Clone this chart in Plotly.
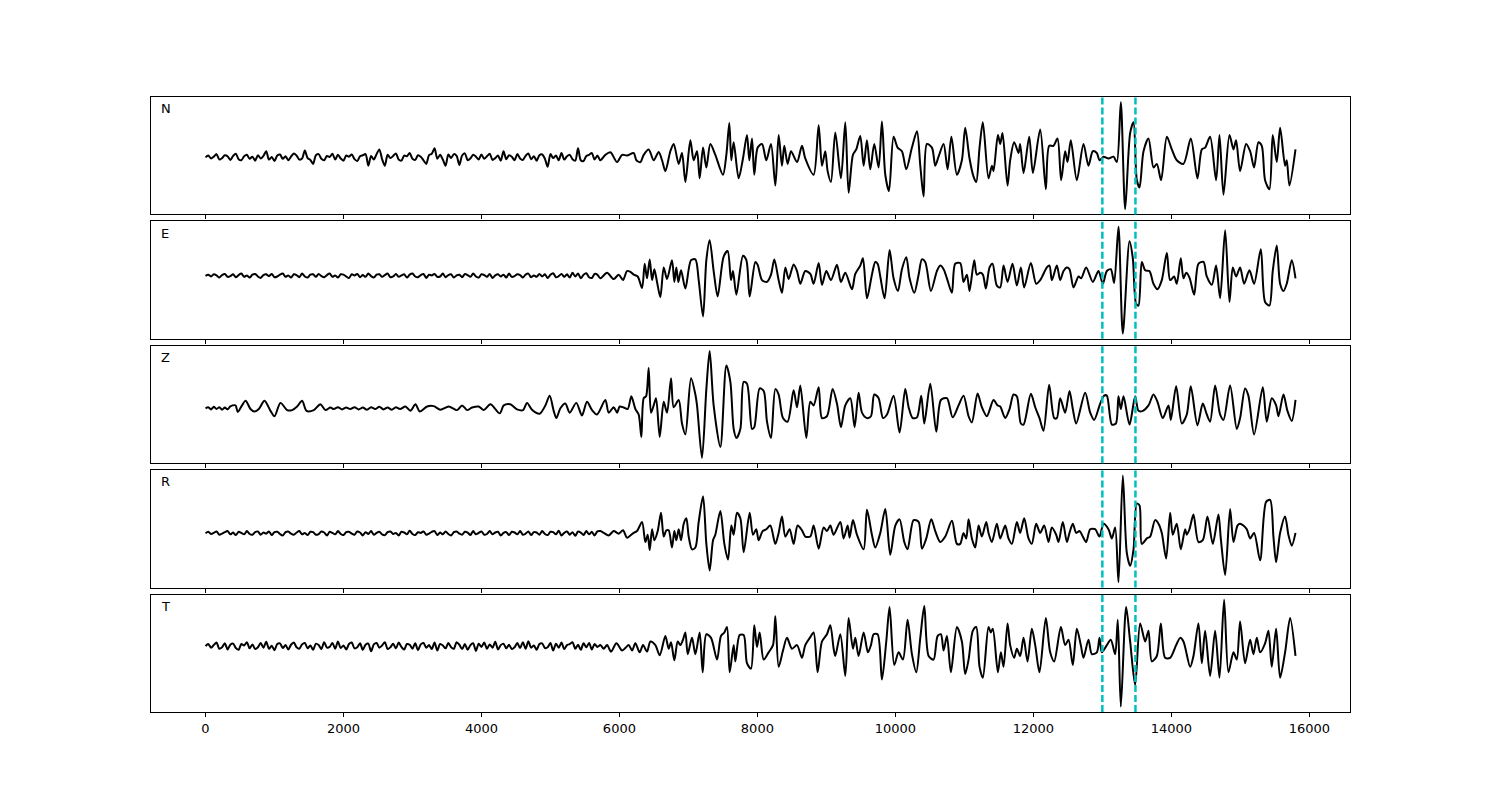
import numpy as np
import plotly.graph_objects as go
from plotly.subplots import make_subplots

# ---------------- data ----------------
COMPONENTS = ["N", "E", "Z", "R", "T"]
X_TICKS = [0, 2000, 4000, 6000, 8000, 10000, 12000, 14000, 16000]
PICKS = [13000, 13480]
NOISE_STEP = 40  # sample spacing of the pre-event noise lists

N_noise = [0, 5, -3, 2, 9, -6, -2, 6, 3, -7,
           4, 10, -5, -8, 3, 7, -4, 2, -9, 6,
           -3, 4, 17, -6, 1, -10, 5, 8, -4, 3,
           -8, 2, 11, 5, -6, -3, 19, -2, -7, -18,
           6, 9, -4, -8, 4, 1, 10, -6, 7, -3,
           -9, 5, 2, 8, -5, -10, 3, 6, 9, -23,
           4, -6, 9, 22, -5, -23, 7, -2, 4, 11,
           -6, -9, 5, 3, 12, -4, -7, 6, 2, -8,
           -18, 6, 10, 25, -4, 7, -6, -23, 8, -2,
           9, 4, -21, 5, 11, -8, -3, 7, 2, -6,
           8, -4, 3, 10, -7, -2, 5, -9, 17, -5,
           6, 2, -8, 9, -3, -7, 4, 11, -5, 3,
           -9, 6, 8, -4, -26, 9, -2, 5, -8, 12,
           -6, 3, 7, -5, -9, 25, -8, -10, 4, 7,
           12, -6, 5]
N_t = [5724, 5796, 5869, 5966, 6038, 6110, 6207, 6246, 6304, 6352,
       6424, 6497, 6569, 6618, 6666, 6738, 6787, 6859, 6907, 6956,
       7028, 7076, 7125, 7163, 7212, 7260, 7318, 7390, 7501, 7550,
       7593, 7622, 7656, 7728, 7791, 7849, 7883, 7922, 7955, 8004,
       8067, 8129, 8197, 8260, 8308, 8356, 8390, 8438, 8487, 8574,
       8646, 8694, 8815, 8888, 8936, 8984, 9018, 9066, 9129, 9211,
       9274, 9322, 9385, 9433, 9491, 9540, 9588, 9636, 9694, 9757,
       9805, 9854, 9907, 9974, 10032, 10095, 10158, 10240, 10313, 10361,
       10409, 10457, 10530, 10578, 10626, 10699, 10757, 10812, 10892, 10964,
       11012, 11075, 11133, 11172, 11220, 11268, 11350, 11399, 11423, 11486,
       11520, 11553, 11626, 11664, 11722, 11785, 11809, 11858, 11940, 11993,
       12099, 12181, 12230, 12292, 12350, 12403, 12461, 12495, 12543, 12630,
       12727, 12799, 12862, 12920, 12959, 13017, 13089, 13162, 13210, 13268,
       13331, 13403, 13452, 13500, 13539, 13597, 13669, 13742, 13790, 13852,
       13935, 14007, 14079, 14176, 14282, 14379, 14442, 14490, 14562, 14649,
       14698, 14756, 14843, 14901, 14939, 14997, 15084, 15142, 15200, 15263,
       15311, 15359, 15422, 15470, 15528, 15577, 15649, 15673, 15712, 15800]
N_v = [-8, 7, 14, -13, 7, 5, 12, -8, -13, 7,
       22, -8, 15, -8, -38, 17, 37, -18, 12, -68,
       47, -8, 17, -58, 27, -28, 37, 7, -48, 7,
       95, -8, 42, -58, -3, 62, -8, 52, -48, 27,
       37, -8, 37, -78, 62, -23, 32, -18, 17, -13,
       32, -3, -48, 89, -23, 17, -38, -68, 69, -58,
       97, -98, 7, 22, 59, -23, 47, -33, 37, -28,
       99, -48, -93, 57, 27, 17, -33, 27, 72, -23,
       -108, 37, 27, -23, 2, 37, -33, 57, -48, -8,
       82, -3, -53, -68, 27, 97, -58, -23, -38, 62,
       37, 67, -78, -8, 42, 12, 37, -43, 57, -43,
       77, -88, 32, 32, 52, -63, 17, -13, 47, -63,
       37, -23, 17, 12, -8, 2, -3, 2, -13, 152,
       -143, 67, 97, -63, -83, 17, 52, -28, -18, -63,
       57, 22, -8, -18, 52, -58, 22, 27, 57, -63,
       62, -103, 62, 22, 47, -38, 37, 17, -28, 42,
       32, -63, -88, 62, -13, 82, -23, -8, -78, 22]

E_noise = [0, 3, -2, 4, 1, -5, 2, 5, -3, -1,
           4, -4, 2, 6, -3, 1, -5, 3, 5, -2,
           -6, 2, 4, -1, 5, -4, -2, 3, 6, -3,
           1, -5, 4, 2, -4, 6, -2, -5, 3, 4,
           -3, 5, -1, -4, 2, 6, -3, 1, -5, 4,
           3, -2, -6, 4, 1, 5, -4, 2, -3, 6,
           -1, -5, 3, 4, -3, 2, 6, -4, -2, 5,
           -3, 1, 4, -5, 3, 6, -2, -4, 2, 5,
           -6, 3, 1, 5, -3, -2, 6, -4, 2, 4,
           -5, 1, 3, -4, 5, 2, -3, 6, -2, -5,
           4, 2, -3, 5, -6, 1, 4, -2, 3, -5,
           6, -3, -1, 4, 2, -5, 3, 6, -4, 1,
           -3, 5, -2, 4, -6, 3, 7, -4, -1, 5,
           -3, 4, -5, 8, -2, 6, -7, 3, 7, -4,
           -6, 5, 3]
E_t = [5724, 5821, 5917, 5990, 6052, 6110, 6159, 6207, 6265, 6328,
       6366, 6400, 6439, 6473, 6506, 6545, 6593, 6642, 6690, 6762,
       6796, 6825, 6854, 6893, 6956, 7038, 7101, 7149, 7212, 7260,
       7308, 7366, 7424, 7511, 7569, 7617, 7646, 7695, 7791, 7840,
       7888, 7970, 8004, 8067, 8139, 8197, 8245, 8308, 8356, 8405,
       8453, 8525, 8574, 8622, 8694, 8767, 8815, 8888, 8936, 8999,
       9066, 9153, 9211, 9274, 9371, 9419, 9491, 9530, 9588, 9660,
       9709, 9743, 9781, 9844, 9916, 9974, 10037, 10095, 10158, 10206,
       10274, 10337, 10385, 10433, 10515, 10602, 10651, 10699, 10747, 10819,
       10867, 10940, 10988, 11037, 11075, 11143, 11181, 11230, 11268, 11312,
       11365, 11408, 11471, 11520, 11568, 11626, 11698, 11761, 11819, 11867,
       11964, 12041, 12099, 12196, 12234, 12268, 12341, 12389, 12437, 12486,
       12524, 12582, 12655, 12693, 12766, 12862, 12944, 13007, 13065, 13123,
       13171, 13234, 13297, 13394, 13442, 13490, 13524, 13572, 13621, 13683,
       13741, 13799, 13862, 13935, 13983, 14041, 14079, 14137, 14176, 14215,
       14263, 14331, 14393, 14466, 14514, 14587, 14649, 14707, 14780, 14843,
       14891, 14939, 14997, 15055, 15132, 15200, 15297, 15359, 15422, 15470,
       15528, 15577, 15625, 15673, 15746, 15800]
E_v = [-7, 8, -9, 3, -12, 13, 11, 3, -2, -34,
       33, -7, 45, -12, 18, -17, -59, 23, -9, 43,
       -17, 23, -17, 15, -35, 43, 45, -12, -112, 43,
       98, 13, -57, 53, 68, -12, 13, -52, 55, 43,
       -57, 38, 30, -12, -17, 3, 45, -12, -47, 23,
       -9, 31, 13, -22, 13, 5, -22, 35, -25, 13,
       -12, 30, -17, 8, -37, 5, 28, 48, -62, 3,
       38, 33, -2, -62, 71, -7, -42, 18, 51, -7,
       -47, 3, 45, 38, -42, 13, 28, 18, -7, -47,
       33, 35, -17, 3, -42, 43, 3, 8, 3, -35,
       23, 33, -27, -32, 28, -17, 33, -27, 23, -32,
       35, -22, -12, 23, 28, -12, 28, -12, 13, 23,
       18, -32, -2, -7, 23, -17, 13, -22, 13, 18,
       -20, 135, -159, 95, 48, -77, -82, 38, 15, 13,
       -22, -37, -12, 63, -12, -2, -22, 48, -7, 8,
       -5, -52, 33, 38, -2, -25, 28, -62, 125, -72,
       23, -2, 23, -22, 15, -22, 73, -72, -82, 13,
       83, -22, -42, -22, 43, -7]

Z_noise = []
Z_t = [0, 40, 80, 120, 160, 200, 240, 280, 320, 360,
       435, 468, 580, 652, 710, 773, 855, 942, 1000, 1087,
       1183, 1256, 1328, 1401, 1464, 1570, 1666, 1739, 1811, 1860,
       1920, 1980, 2040, 2100, 2160, 2220, 2280, 2340, 2400, 2460,
       2520, 2580, 2640, 2700, 2760, 2820, 2898, 2970, 3043, 3106,
       3212, 3309, 3405, 3526, 3647, 3719, 3792, 3864, 3961, 4033,
       4130, 4265, 4323, 4419, 4516, 4603, 4661, 4733, 4844, 4927,
       4989, 5047, 5086, 5144, 5216, 5279, 5375, 5457, 5530, 5603,
       5675, 5796, 5845, 5917, 5966, 6004, 6062, 6120, 6173, 6231,
       6279, 6318, 6352, 6386, 6424, 6458, 6497, 6531, 6584, 6642,
       6690, 6748, 6787, 6859, 6907, 6956, 7038, 7101, 7125, 7197,
       7260, 7308, 7366, 7463, 7550, 7608, 7656, 7695, 7753, 7801,
       7849, 7922, 7955, 8033, 8091, 8139, 8197, 8260, 8308, 8371,
       8438, 8525, 8574, 8622, 8709, 8767, 8815, 8888, 8936, 9008,
       9090, 9153, 9211, 9274, 9347, 9409, 9467, 9516, 9588, 9646,
       9694, 9757, 9820, 9878, 9974, 10061, 10143, 10192, 10250, 10313,
       10375, 10419, 10506, 10593, 10660, 10747, 10830, 10916, 10988, 11061,
       11109, 11191, 11254, 11326, 11423, 11481, 11520, 11592, 11655, 11713,
       11761, 11819, 11858, 11964, 12027, 12089, 12147, 12229, 12302, 12341,
       12389, 12461, 12524, 12572, 12621, 12751, 12824, 12882, 12969, 13026,
       13065, 13138, 13196, 13234, 13268, 13307, 13394, 13476, 13524, 13587,
       13669, 13741, 13799, 13876, 13959, 13993, 14070, 14152, 14224, 14282,
       14379, 14456, 14514, 14562, 14635, 14707, 14756, 14852, 14949, 14997,
       15069, 15117, 15200, 15326, 15383, 15456, 15519, 15553, 15625, 15683,
       15746, 15800]
Z_v = [0, 3, -3, 4, -2, 3, -4, 2, -3, 5,
       8, -10, 21, -2, -9, -2, 21, -7, -22, 15,
       -5, -5, 5, 21, -7, -5, 11, -5, 2, -2,
       3, -3, 2, -2, 3, -3, 2, -4, 3, -2,
       4, -3, 2, -4, 3, -2, 5, -7, 11, -9,
       5, 6, -4, 5, -5, 8, -5, 2, 5, -5,
       11, -14, 8, 11, -3, -5, 15, -4, -15, 8,
       35, -7, -27, 0, 13, -12, 15, -20, 18, -5,
       -17, 23, -12, 3, -12, 5, 2, -2, 33, -2,
       -17, -79, 28, 33, 111, -12, 8, 28, -79, 18,
       -12, 83, 3, 23, -42, -72, 83, 38, 8, -137,
       53, 158, 8, -107, 118, 73, -57, -82, -57, 73,
       68, -57, -52, 55, 48, -37, -82, 53, 38, -27,
       -37, 50, 3, 63, -82, 18, 8, 58, -27, -22,
       53, 13, -52, 8, 28, -52, 43, -12, -27, -22,
       38, 28, -27, -17, 35, -67, 53, 3, -27, -25,
       35, -42, 68, -65, 23, 28, -25, 8, 35, -22,
       -39, 41, 3, -22, 23, 8, 5, -27, -2, 38,
       33, -42, -45, 40, 3, -27, -62, 65, -27, -27,
       28, -12, 48, -2, -42, 43, -12, -32, 13, 35,
       35, -45, -42, 33, -2, 33, -45, 33, -7, -7,
       8, 38, 18, -27, 8, -32, 61, -42, -17, 61,
       -47, 13, -17, -37, 63, -17, -32, 63, -57, -27,
       55, 35, -72, 58, -37, 28, 8, -22, 38, -7,
       -35, 23]

R_noise = [0, 4, -2, 1, 5, -4, -1, 3, 6, -3,
           2, -5, 4, 1, -3, 6, -2, -4, 3, 5,
           -4, 2, -1, 5, -5, 3, 4, -2, -6, 3,
           5, -1, -4, 2, 6, -3, 1, -5, 4, 3,
           -4, -2, 5, 2, -6, 4, 1, -3, 6, -2,
           -5, 3, 4, -1, -4, 5, 2, -6, 3, -2,
           6, -4, 1, 4, -3, -5, 3, 5, -2, 1,
           -6, 4, 2, -3, 7, -2, -5, 3, 1, 5,
           -4, -1, 4, 6, -5, 2, -3, 5, -2, -6,
           3, 5, -1, -4, 4, 2, -5, 6, -3, 1,
           5, -4, -2, 6, -3, 2, 4, -6, 1, 3,
           -5, 4, 2, -3, 6, -4, -1, 5, -5, 3,
           2, -4, 6, -2, -5, 4, 3, -3, 7, -6,
           1, 5, -4, 3, -7, 5, 2, -5, 6, -3,
           4, -6, 5]
R_t = [5724, 5772, 5845, 5917, 5990, 6052, 6110, 6159, 6207, 6255,
       6328, 6376, 6410, 6439, 6473, 6506, 6555, 6603, 6642, 6680,
       6714, 6762, 6796, 6825, 6859, 6893, 6932, 6970, 7004, 7052,
       7101, 7149, 7212, 7260, 7308, 7357, 7390, 7463, 7521, 7574,
       7622, 7656, 7704, 7753, 7801, 7888, 7936, 7984, 8018, 8076,
       8129, 8187, 8260, 8308, 8356, 8405, 8467, 8525, 8583, 8646,
       8694, 8767, 8815, 8888, 8960, 9008, 9057, 9105, 9202, 9250,
       9308, 9337, 9385, 9443, 9540, 9588, 9660, 9709, 9781, 9854,
       9926, 9999, 10061, 10129, 10177, 10264, 10337, 10385, 10448, 10520,
       10578, 10651, 10723, 10820, 10892, 10940, 10988, 11027, 11061, 11109,
       11157, 11206, 11254, 11317, 11350, 11399, 11471, 11520, 11592, 11640,
       11689, 11761, 11809, 11867, 11930, 11978, 12041, 12099, 12157, 12220,
       12268, 12331, 12365, 12427, 12486, 12524, 12572, 12621, 12669, 12717,
       12766, 12824, 12896, 12959, 13017, 13089, 13138, 13186, 13234, 13297,
       13355, 13403, 13452, 13500, 13539, 13572, 13645, 13693, 13765, 13814,
       13862, 13925, 13983, 14021, 14079, 14137, 14200, 14224, 14263, 14321,
       14393, 14456, 14524, 14601, 14683, 14717, 14780, 14852, 14901, 14959,
       14997, 15045, 15094, 15142, 15200, 15287, 15374, 15432, 15480, 15519,
       15577, 15649, 15697, 15746, 15800]
R_v = [6, 1, -6, 6, -1, 8, -12, -6, 1, 6,
       31, -24, -4, -46, 11, -19, 6, 56, -9, 8,
       8, -39, 6, -19, 11, -19, 26, 41, -9, -44,
       -39, 31, 101, -29, -102, -19, -4, 61, -29, -72,
       21, -4, 56, 41, -52, 56, -4, 11, -19, 6,
       11, 21, -29, 1, 46, -9, 11, -29, 21, 8,
       -9, -9, 21, -42, 16, 6, 21, -4, 31, -14,
       21, -12, 36, -4, -44, 64, -4, -39, 1, 66,
       -59, 21, 38, -24, -44, 36, 31, -42, -14, 38,
       6, -24, -9, 34, -29, -29, 1, -14, 38, -14,
       -39, 21, -9, 31, 1, -24, 26, -14, 21, -14,
       -29, 31, 1, 41, -14, -29, 26, 1, 21, -24,
       16, -4, -24, 31, -24, 1, 26, 1, 6, -9,
       -24, 11, 11, -9, 26, 11, -14, 16, -134, 158,
       -54, -89, -44, 81, 76, -29, -14, -9, 36, 26,
       1, -69, 56, -4, 26, -44, 11, -4, 11, 51,
       -24, -19, 46, -29, 51, -14, -114, 66, -24, 21,
       26, 21, 11, -14, 1, -74, 86, 91, -9, -79,
       1, 46, -4, -34, 1]

T_noise = [0, 6, -4, 3, 10, -7, -3, 8, -9, 4,
           7, -5, -10, 6, 2, 11, -6, 5, -8, -3,
           9, -4, 12, -7, 1, -11, 6, 8, -5, 3,
           -9, 4, 10, -3, -7, 5, 9, -6, 2, -10,
           7, 3, -8, 11, -4, -2, 9, -7, 13, -5,
           2, -9, 6, 10, -6, -3, 8, -10, 4, 7,
           -14, 5, 9, -4, 2, 11, -8, -3, 7, -6,
           10, -2, -9, 6, 4, -7, 8, -11, 5, 9,
           -4, 3, -8, 10, -12, 6, 2, -6, 9, -3,
           -7, 11, 4, -8, 6, -10, 3, 8, -13, 7,
           -2, 10, -7, 5, -4, 12, -9, 3, 7, -6,
           4, -8, -3, 9, -5, 11, -7, 14, -4, 2,
           -10, 6, 8, -5, -3, 9, -12, 7, -4, 10,
           -8, 3, 6, 11, -7, 4, -10, 8, -3, 9,
           -9, 6, -2]
T_t = [5724, 5772, 5821, 5879, 5956, 6038, 6086, 6135, 6183, 6231,
       6294, 6342, 6400, 6449, 6521, 6584, 6666, 6714, 6748, 6796,
       6845, 6883, 6922, 6956, 6990, 7052, 7101, 7163, 7207, 7260,
       7328, 7415, 7472, 7521, 7559, 7598, 7656, 7680, 7743, 7801,
       7849, 7907, 7955, 7994, 8033, 8091, 8163, 8226, 8260, 8308,
       8371, 8429, 8501, 8574, 8646, 8694, 8767, 8815, 8873, 8936,
       9008, 9057, 9105, 9129, 9202, 9274, 9322, 9385, 9419, 9467,
       9540, 9602, 9646, 9685, 9743, 9805, 9868, 9916, 9984, 10047,
       10110, 10177, 10240, 10303, 10361, 10419, 10482, 10554, 10612, 10660,
       10699, 10747, 10805, 10892, 10964, 11012, 11061, 11123, 11172, 11220,
       11268, 11350, 11384, 11413, 11486, 11529, 11568, 11626, 11664, 11722,
       11761, 11809, 11858, 11916, 11978, 12027, 12089, 12181, 12244, 12302,
       12399, 12461, 12510, 12572, 12630, 12688, 12727, 12799, 12848, 12920,
       12959, 12993, 13065, 13123, 13186, 13224, 13268, 13345, 13403, 13476,
       13548, 13621, 13669, 13717, 13790, 13848, 13910, 13983, 14070, 14128,
       14176, 14273, 14321, 14393, 14442, 14490, 14562, 14635, 14698, 14765,
       14828, 14901, 14949, 14997, 15069, 15142, 15190, 15239, 15287, 15359,
       15408, 15456, 15519, 15577, 15649, 15722, 15800]
T_v = [3, -7, 3, -15, 8, -12, -5, 3, -12, 8,
       -17, 3, -15, 13, 3, -25, 28, -7, 11, -39,
       13, 3, 18, 38, -22, 23, -22, 38, -72, 33,
       23, -37, 28, 38, 53, -72, 3, -42, 31, 31,
       -47, -62, 58, -2, 38, -37, -17, 3, 83, -57,
       -12, 23, -7, 3, -32, 3, 25, 38, -72, 13,
       33, 58, -7, -27, 33, -82, 78, -7, 23, -27,
       38, -17, 3, 33, 33, -92, 13, 108, -52, -17,
       -37, 73, -22, -72, 23, 111, -27, -37, 28, 33,
       -12, 28, -72, 53, 13, -77, -37, 43, 53, -57,
       -87, 53, 38, 48, -72, -17, -57, 63, 3, -32,
       -7, -27, 23, -42, 48, 3, -72, 78, -17, -42,
       53, 3, 18, -52, 48, 3, -32, 18, -22, -17,
       23, -17, 3, 18, -22, 73, -167, 108, 13, -107,
       63, 13, 43, -42, -27, 63, -32, -32, 3, 23,
       13, -57, -27, 63, -47, 43, -82, 43, -87, 128,
       -72, -17, -37, 68, -47, 18, -22, 23, -17, 8,
       43, -57, 48, -87, -17, 78, -27]

SERIES = {
    "N": (N_noise, N_t, N_v),
    "E": (E_noise, E_t, E_v),
    "Z": (Z_noise, Z_t, Z_v),
    "R": (R_noise, R_t, R_v),
    "T": (T_noise, T_t, T_v),
}

# ---------------- figure ----------------
FONT = "DejaVu Sans"
fig = make_subplots(rows=5, cols=1, shared_xaxes=True, vertical_spacing=0.0112)

for i, comp in enumerate(COMPONENTS, start=1):
    noise, t_act, v_act = SERIES[comp]
    assert len(t_act) == len(v_act), comp
    t = np.concatenate([np.arange(len(noise)) * NOISE_STEP, np.array(t_act, dtype=float)])
    v = np.concatenate([np.array(noise, dtype=float), np.array(v_act, dtype=float)])
    fig.add_trace(go.Scatter(x=t, y=v, mode="lines",
                             line=dict(color="black", width=2, shape="spline", smoothing=0.8),
                             showlegend=False, hoverinfo="skip"), row=i, col=1)
    lo, hi = float(v.min()), float(v.max())
    pad = 0.05 * (hi - lo)
    fig.update_yaxes(range=[lo - pad, hi + pad], row=i, col=1)
    sfx = "" if i == 1 else str(i)
    for p in PICKS:
        fig.add_shape(type="line", x0=p, x1=p, y0=0, y1=1,
                      xref=f"x{sfx}", yref=f"y{sfx} domain",
                      line=dict(color="#00BFBF", width=2.5, dash="7px,3px"))
    fig.add_annotation(text=comp, x=0.007, y=0.9, xref=f"x{sfx} domain",
                       yref=f"y{sfx} domain", xanchor="left", yanchor="middle",
                       showarrow=False, font=dict(family=FONT, size=13, color="black"))

fig.update_xaxes(range=[-790, 16590], tickvals=X_TICKS, tickformat="d", ticks="outside",
                 ticklen=4, tickwidth=1, tickcolor="black", showline=True,
                 linecolor="black", linewidth=1, mirror=True, showgrid=False,
                 zeroline=False, tickfont=dict(family=FONT, size=13, color="black"))
fig.update_yaxes(showticklabels=False, ticks="", showline=True, linecolor="black",
                 linewidth=1, mirror=True, showgrid=False, zeroline=False)

fig.update_layout(width=1500, height=800, paper_bgcolor="white", plot_bgcolor="white",
                  margin=dict(l=143, r=158, t=89, b=96),
                  font=dict(family=FONT, size=13, color="black"))

fig.write_html("out.html")
